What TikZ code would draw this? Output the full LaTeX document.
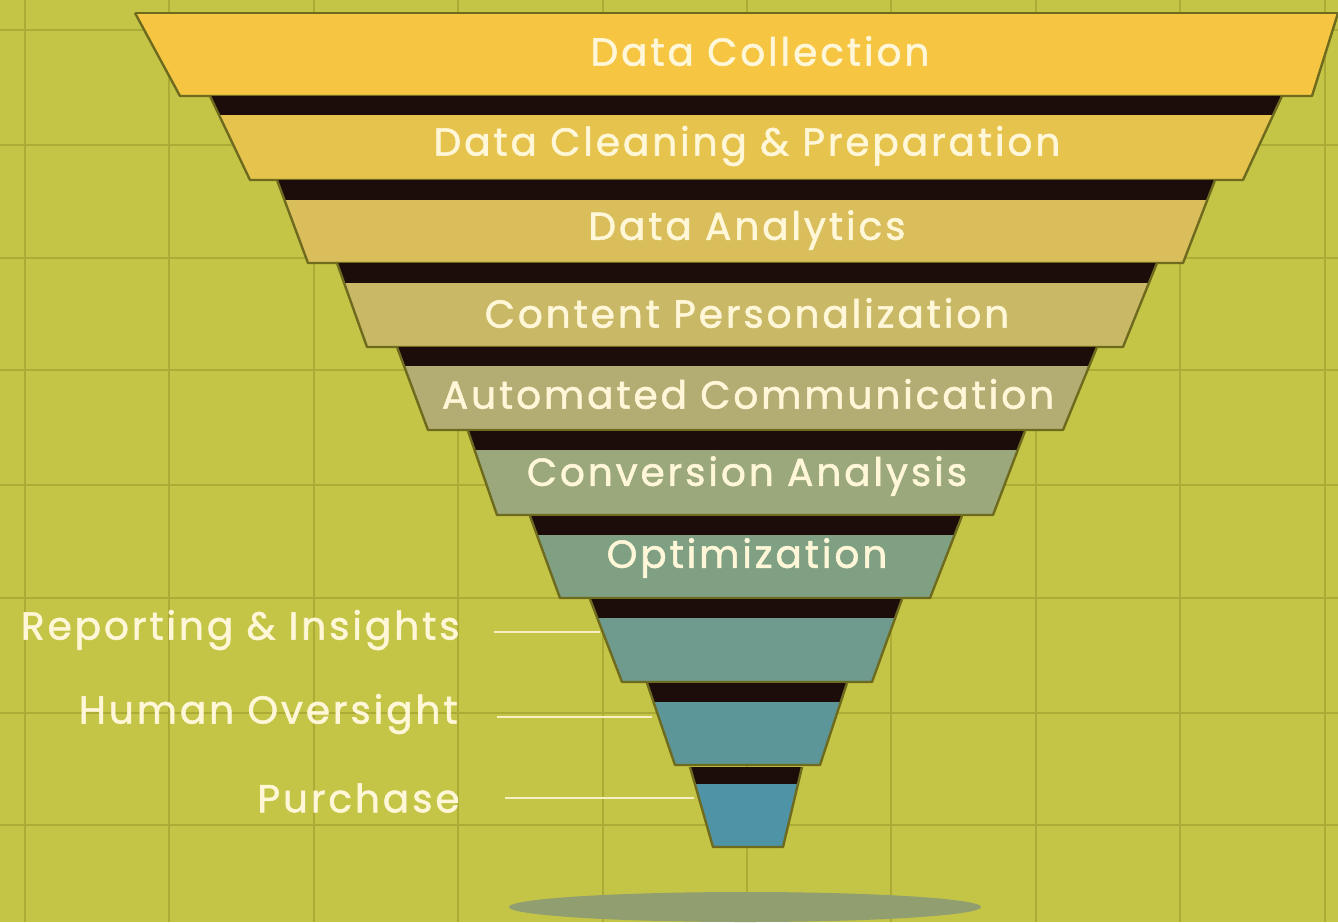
\documentclass[tikz,border=0pt]{standalone}
\usepackage{fontspec}
\setmainfont{Poppins}
\newfontfamily\labfont{Poppins}[FakeBold=1.4, LetterSpace=7.5]
\usetikzlibrary{calc}
\definecolor{bgc}{HTML}{C4C547}
\definecolor{gridc}{HTML}{ABAB36}
\definecolor{bandc}{HTML}{1C0C0A}
\definecolor{edgec}{HTML}{6E6A1E}
\definecolor{txtc}{HTML}{FFF7D8}
\definecolor{cA}{HTML}{F6C643}
\definecolor{cB}{HTML}{E6C34C}
\definecolor{cC}{HTML}{D9BE5B}
\definecolor{cD}{HTML}{C9B967}
\definecolor{cE}{HTML}{B4AD73}
\definecolor{cF}{HTML}{9BA87B}
\definecolor{cG}{HTML}{80A084}
\definecolor{cH}{HTML}{6E9B8D}
\definecolor{cI}{HTML}{5C9698}
\definecolor{cJ}{HTML}{4F93A6}
\definecolor{shadowc}{HTML}{909E70}
\tikzset{
  band/.style={fill=bandc},
  layerfill/.style={draw=none},
  layeredge/.style={draw=edgec, line width=1.2pt, line join=round},
  lbl/.style={text=txtc, font=\labfont\fontsize{19.5}{22}\selectfont, inner sep=0pt},
  sidelbl/.style={lbl, anchor=east},
  leader/.style={draw=txtc!85!bgc, line width=1.1pt},
}
\newcommand\funlayer[9]{%
  \pgfmathsetmacro\lyT{(#3-#2)/(#4-#2)}%
  \pgfmathsetmacro\lyL{#5+(#6-#5)*\lyT}%
  \pgfmathsetmacro\lyR{#7+(#8-#7)*\lyT}%
  \fill[band] (#5,#2) -- (#7,#2) -- (#8,#4) -- (#6,#4) -- cycle;
  \fill[layerfill, fill=#9] (\lyL,#3) -- (\lyR,#3) -- (#8,#4) -- (#6,#4) -- cycle;
  \draw[layeredge] (#5,#2) -- (#6,#4) -- (#8,#4) -- (#7,#2);
  \coordinate (#1c) at ({(\lyL+\lyR)/2},{(#3+#4)/2});
  \coordinate (#1w) at ({(\lyL+#6)/2},{(#3+#4)/2});
}
\begin{document}
\begin{tikzpicture}[x=0.5pt,y=-0.5pt]
\useasboundingbox (0,0) rectangle (1338,922);
\fill[bgc] (0,0) rectangle (1338,922);
% grid
\foreach \gx in {25,169,314,458,603,747,891,1036,1180,1325}
  \draw[gridc, line width=1.4pt] (\gx,0) -- (\gx,922);
\foreach \gy in {30,145,258,370,485,598,713,825}
  \draw[gridc, line width=1.4pt] (0,\gy) -- (1338,\gy);
% shadow
\fill[shadowc] (745,907) ellipse [x radius=236, y radius=15];
% layers
\funlayer{L1}{13}{13}{96}{135}{180}{1338}{1312}{cA}
\draw[layeredge] (135,13) -- (1338,13);
\funlayer{L2}{96}{115}{180}{210}{250}{1282}{1243}{cB}
\funlayer{L3}{180}{200}{263}{277}{308}{1215}{1183}{cC}
\funlayer{L4}{263}{283}{347}{337}{367}{1157}{1123}{cD}
\funlayer{L5}{347}{366}{430}{397}{428}{1097}{1063}{cE}
\funlayer{L6}{431}{450}{515}{468}{497}{1025}{993}{cF}
\funlayer{L7}{516}{535}{598}{530}{560}{962}{930}{cG}
\funlayer{L8}{599}{618}{682}{590}{622}{902}{872}{cH}
\funlayer{L9}{683}{702}{765}{647}{675}{847}{820}{cI}
\funlayer{L10}{767}{784}{847}{690}{713}{802}{783}{cJ}
% labels
\node[lbl] (t1) at (760,51) {Data Collection};
\node[lbl] (t2) at (747,146) {Data Cleaning \& Preparation};
\node[lbl] (t3) at (747,230) {Data Analytics};
\node[lbl] (t4) at (747,313) {Content Personalization};
\node[lbl] (t5) at (748,394) {Automated Communication};
\node[lbl] (t6) at (747,476) {Conversion Analysis};
\node[lbl] (t7) at (747,558) {Optimization};
\node[sidelbl] (t8) at (460,630) {Reporting \& Insights};
\node[sidelbl] (t9) at (458,714) {Human Oversight};
\node[sidelbl] (t10) at (460,798) {Purchase};
% leaders
\coordinate (p8) at (600,632);
\coordinate (p9) at (652,717);
\coordinate (p10) at (694,798);
\draw[leader] (494,632) -- (p8);
\draw[leader] (497,717) -- (p9);
\draw[leader] (505,798) -- (p10);
\end{tikzpicture}
\end{document}
